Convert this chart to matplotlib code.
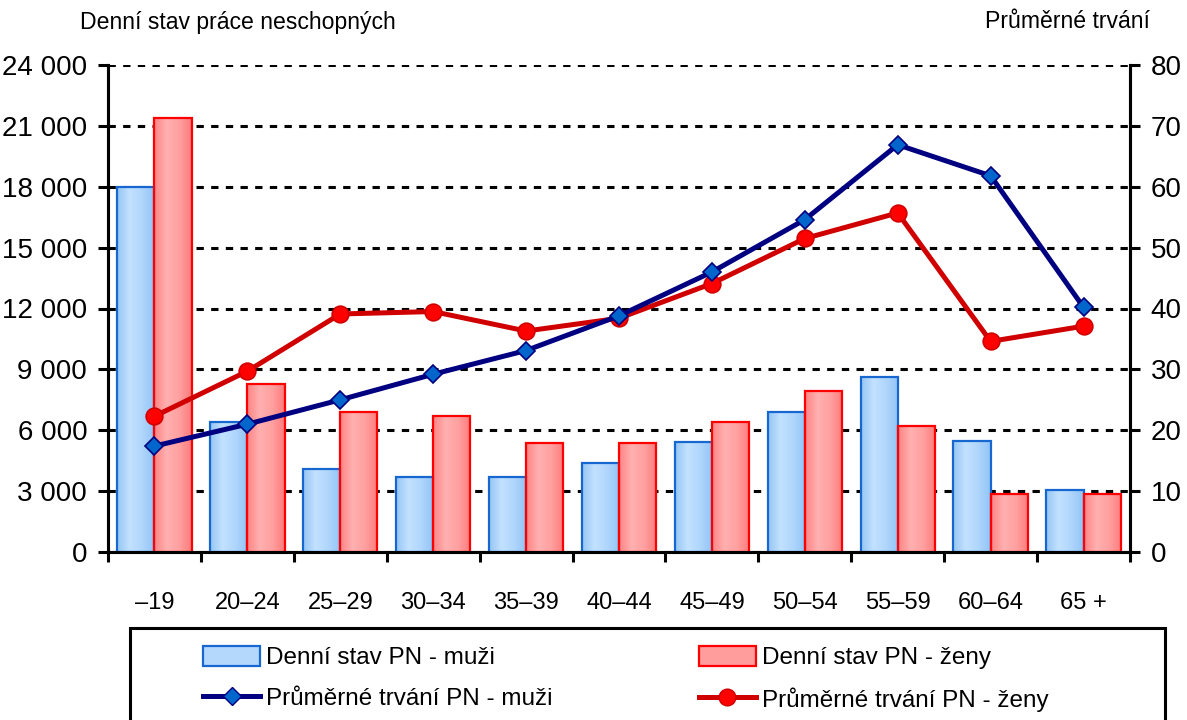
import matplotlib
matplotlib.use("Agg")
import matplotlib.pyplot as plt
import numpy as np
from matplotlib.ticker import FuncFormatter, MultipleLocator
from matplotlib.colors import LinearSegmentedColormap
from matplotlib.patches import Rectangle, Patch
from matplotlib.lines import Line2D

vekove_skupiny = ["–19", "20–24", "25–29", "30–34", "35–39", "40–44",
                  "45–49", "50–54", "55–59", "60–64", "65 +"]
stav_muzi = [18000, 6400, 4100, 3700, 3700, 4400, 5400, 6900, 8600, 5450, 3050]
stav_zeny = [21400, 8300, 6900, 6700, 5350, 5350, 6400, 7950, 6200, 2850, 2850]
trvani_muzi = [17.4, 21.0, 25.0, 29.2, 33.1, 38.8, 46.0, 54.6, 66.9, 61.8, 40.2]
trvani_zeny = [22.3, 29.7, 39.1, 39.5, 36.3, 38.4, 44.1, 51.5, 55.7, 34.6, 37.1]

plt.rcParams["font.family"] = ["Liberation Sans Narrow", "Liberation Sans", "DejaVu Sans"]
plt.rcParams["font.size"] = 20

modra_cm = LinearSegmentedColormap.from_list("modra", ["#96c6f4", "#c2e1ff", "#b0d6fc", "#92c4f7"])
cervena_cm = LinearSegmentedColormap.from_list("cervena", ["#ff8484", "#ffb0b0", "#ffa0a0", "#ff7c7c"])
grad = np.linspace(0, 1, 64).reshape(1, -1)


def gradient_bars(ax, bars, cmap):
    for b in bars:
        x0, y0 = b.get_x(), b.get_y()
        im = ax.imshow(grad, cmap=cmap, aspect="auto", zorder=2.9,
                       extent=[x0, x0 + b.get_width(), y0, y0 + b.get_height()])
        im.set_clip_path(b)


fig = plt.figure(figsize=(11.87, 7.2), dpi=100)
ax = fig.add_axes([108 / 1187, 1 - 552 / 720, (1130 - 108) / 1187, (552 - 65) / 720])
ax2 = ax.twinx()

x = np.arange(len(vekove_skupiny))
w = 0.4
bars_m = ax.bar(x - w / 2, stav_muzi, w, facecolor="none", edgecolor="#1668d0", lw=1.6, zorder=3)
bars_z = ax.bar(x + w / 2, stav_zeny, w, facecolor="none", edgecolor="#ff0000", lw=1.6, zorder=3)
gradient_bars(ax, bars_m, modra_cm)
gradient_bars(ax, bars_z, cervena_cm)

ax2.plot(x, trvani_muzi, color="#000080", lw=3.6, marker="D", ms=9,
         mfc="#0066cc", mec="#000080", mew=1.2, zorder=5)
ax2.plot(x, trvani_zeny, color="#d00000", lw=3.6, marker="o", ms=12,
         mfc="#ff0000", mec="#d00000", mew=1.2, zorder=4)

ax.set_xlim(-0.5, len(x) - 0.5)
ax.set_ylim(0, 24000)
ax2.set_ylim(0, 80)
ax.yaxis.set_major_locator(MultipleLocator(3000))
ax2.yaxis.set_major_locator(MultipleLocator(10))
ax.yaxis.set_major_formatter(FuncFormatter(lambda v, p: f"{int(v):,}".replace(",", " ")))

ax.set_axisbelow(True)
ax.yaxis.grid(True, color="black", lw=2.2, linestyle=(0, (2.4, 2.4)))

ax.set_xticks(x)
ax.set_xticklabels(vekove_skupiny, fontsize=17)
ax.set_xticks(np.arange(len(x) + 1) - 0.5, minor=True)
ax.tick_params(axis="x", which="major", length=0, pad=29)
ax.tick_params(axis="x", which="minor", length=7, width=2.2, direction="out")
ax.tick_params(axis="y", length=7, width=2.2, direction="out", pad=8)
ax2.tick_params(axis="y", length=7, width=2.2, direction="out", pad=8)

for a in (ax, ax2):
    a.spines["top"].set_visible(False)
    for s in ("left", "right", "bottom"):
        a.spines[s].set_linewidth(2.2)

fig.text(80 / 1187, 1 - 22 / 720, "Denní stav práce neschopných", ha="left", va="center", fontsize=16.6)
fig.text(1150 / 1187, 1 - 22 / 720, "Průměrné trvání", ha="right", va="center", fontsize=16.6)

fig.add_artist(Rectangle((130 / 1187, -0.05), (1165 - 130) / 1187, 0.05 + 1 - 628 / 720,
                         transform=fig.transFigure, fill=False, ec="black", lw=2.2, clip_on=False))

handles = [
    Patch(facecolor="#b4d8fc", edgecolor="#1668d0", lw=1.6),
    Line2D([], [], color="#000080", lw=3.6, marker="D", ms=9, mfc="#0066cc", mec="#000080"),
    Patch(facecolor="#ff9c9c", edgecolor="#ff0000", lw=1.6),
    Line2D([], [], color="#d00000", lw=3.6, marker="o", ms=12, mfc="#ff0000", mec="#d00000"),
]
labels = ["Denní stav PN - muži", "Průměrné trvání PN - muži",
          "Denní stav PN - ženy", "Průměrné trvání PN - ženy"]
fig.legend(handles, labels, ncol=2, loc="upper left", bbox_to_anchor=(203 / 1187, 1 - 646 / 720),
           frameon=False, fontsize=17.5, handlelength=2.35, handleheight=0.9, handletextpad=0.25,
           columnspacing=6.0, labelspacing=0.72, borderpad=0, borderaxespad=0)

fig.savefig("out.png", dpi=100)
